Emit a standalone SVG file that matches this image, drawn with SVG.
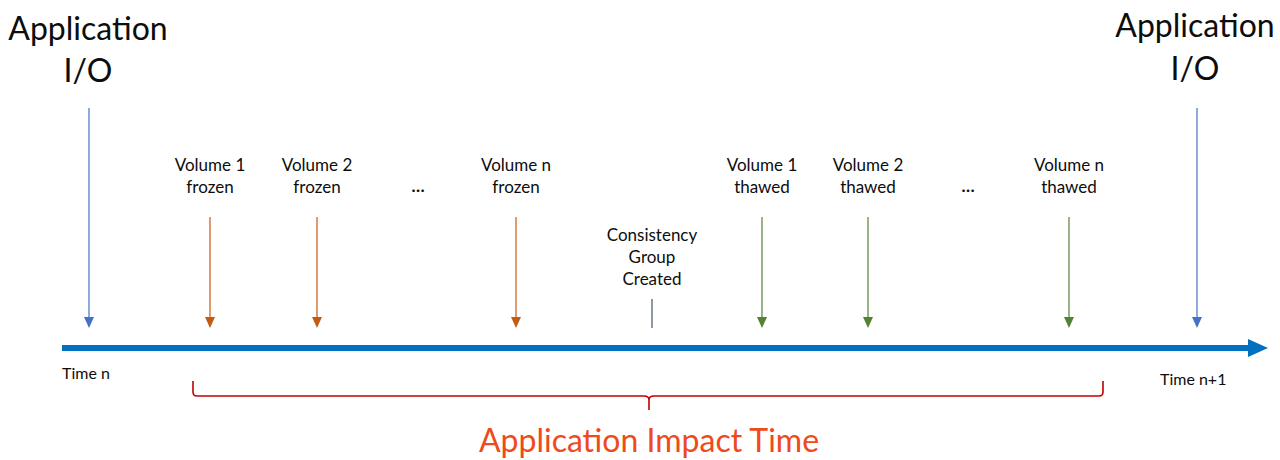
<svg xmlns="http://www.w3.org/2000/svg" width="1280" height="460" viewBox="0 0 1280 460">
  <style>
    text { font-family: Lato, "Open Sans", "Liberation Sans", sans-serif; fill: #0d0d0d; text-anchor: middle; }
    .big { font-size: 32px; }
    .lbl { font-size: 17px; }
    .tm { font-size: 16px; text-anchor: start; }
    .impact { font-size: 32px; fill: #EE4A1C; }
    .io { stroke: #4472C4; stroke-width: 1.2; fill: none; }
    .frz { stroke: #C55A11; stroke-width: 1.2; fill: none; }
    .thw { stroke: #548235; stroke-width: 1.2; fill: none; }
  </style>
  <rect width="1280" height="460" fill="#fff"/>

  <!-- application I/O, left -->
  <g id="io-left">
    <text class="big" x="88" y="40">Application</text>
    <text class="big" x="88" y="82">I/O</text>
  </g>
  <!-- application I/O, right -->
  <g id="io-right">
    <text class="big" x="1195" y="37">Application</text>
    <text class="big" x="1195" y="80">I/O</text>
  </g>

  <g id="vol1-frozen"><text class="lbl" x="210" y="171">Volume 1</text><text class="lbl" x="210" y="193">frozen</text></g>
  <g id="vol2-frozen"><text class="lbl" x="317" y="171">Volume 2</text><text class="lbl" x="317" y="193">frozen</text></g>
  <g id="dots-frozen"><text class="lbl" x="418" y="192" font-weight="bold">…</text></g>
  <g id="voln-frozen"><text class="lbl" x="516" y="171">Volume n</text><text class="lbl" x="516" y="193">frozen</text></g>

  <g id="cg-created">
    <text class="lbl" x="652" y="241">Consistency</text>
    <text class="lbl" x="652" y="263">Group</text>
    <text class="lbl" x="652" y="285">Created</text>
  </g>

  <g id="vol1-thawed"><text class="lbl" x="762" y="171">Volume 1</text><text class="lbl" x="762" y="193">thawed</text></g>
  <g id="vol2-thawed"><text class="lbl" x="868" y="171">Volume 2</text><text class="lbl" x="868" y="193">thawed</text></g>
  <g id="dots-thawed"><text class="lbl" x="968" y="192" font-weight="bold">…</text></g>
  <g id="voln-thawed"><text class="lbl" x="1069" y="171">Volume n</text><text class="lbl" x="1069" y="193">thawed</text></g>

  <g id="time-labels">
    <text class="tm" x="62" y="379">Time n</text>
    <text class="tm" x="1160" y="385">Time n+1</text>
  </g>

  <g id="impact">
    <text class="impact" x="649" y="452">Application Impact Time</text>
  </g>

  <g id="connectors">
    <!-- timeline -->
    <line x1="62" y1="348" x2="1250" y2="348" stroke="#0070C0" stroke-width="6"/>
    <path d="M1248 339 L1268 348 L1248 357 Z" fill="#0070C0"/>

    <!-- I/O events -->
    <line class="io" x1="89" y1="108" x2="89" y2="318"/>
    <path d="M84 317 L94 317 L89 328 Z" fill="#4472C4"/>
    <line class="io" x1="1197" y1="108" x2="1197" y2="318"/>
    <path d="M1192 317 L1202 317 L1197 328 Z" fill="#4472C4"/>

    <!-- freeze events -->
    <line class="frz" x1="210" y1="217" x2="210" y2="318"/>
    <path d="M205 317 L215 317 L210 328 Z" fill="#C55A11"/>
    <line class="frz" x1="317" y1="217" x2="317" y2="318"/>
    <path d="M312 317 L322 317 L317 328 Z" fill="#C55A11"/>
    <line class="frz" x1="516" y1="217" x2="516" y2="318"/>
    <path d="M511 317 L521 317 L516 328 Z" fill="#C55A11"/>

    <!-- consistency group tick -->
    <line x1="652" y1="299" x2="652" y2="328" stroke="#44546A" stroke-width="1.2"/>

    <!-- thaw events -->
    <line class="thw" x1="762" y1="217" x2="762" y2="318"/>
    <path d="M757 317 L767 317 L762 328 Z" fill="#548235"/>
    <line class="thw" x1="868" y1="217" x2="868" y2="318"/>
    <path d="M863 317 L873 317 L868 328 Z" fill="#548235"/>
    <line class="thw" x1="1069" y1="217" x2="1069" y2="318"/>
    <path d="M1064 317 L1074 317 L1069 328 Z" fill="#548235"/>

    <!-- impact brace -->
    <path d="M193 381 L193 392 Q193 396 197 396 L644 396 Q649 396 649 400 L649 410 M649 400 Q649 396 654 396 L1099 396 Q1103 396 1103 392 L1103 381" fill="none" stroke="#C00000" stroke-width="1.6"/>
  </g>
</svg>
